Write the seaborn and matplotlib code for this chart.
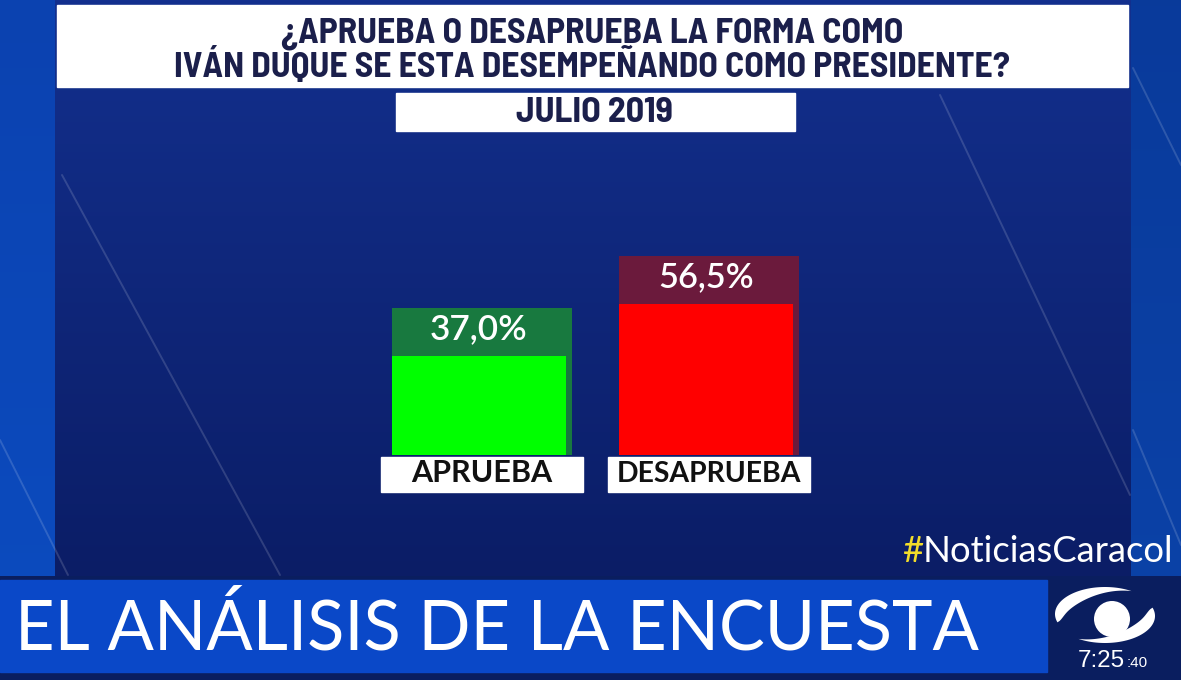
import numpy as np
import pandas as pd
import matplotlib
matplotlib.use('Agg')
import matplotlib.pyplot as plt
import seaborn as sns
from matplotlib.patches import Rectangle, Circle, Polygon

# DATOS
categorias = ['APRUEBA', 'DESAPRUEBA']
valores = [37.0, 56.5]
etiquetas = ['37,0%', '56,5%']
colores_barra = ['#00ff00', '#ff0000']
colores_cabecera = ['#18793f', '#6b1a3c']

titulo = ['¿APRUEBA O DESAPRUEBA LA FORMA COMO',
          'IVÁN DUQUE SE ESTA DESEMPEÑANDO COMO PRESIDENTE?']
fecha = 'JULIO 2019'
franja = 'EL ANÁLISIS DE LA ENCUESTA'
hashtag = 'NoticiasCaracol'
hora = '7:25'
segundos = ':40'

sns.set_theme(style='white')
plt.rcParams['font.family'] = ['Lato', 'DejaVu Sans']
ANGOSTA = ['Barlow Semi Condensed', 'Barlow Condensed', 'Liberation Sans Narrow', 'DejaVu Sans']

W, H = 1181, 680
fig = plt.figure(figsize=(W / 100, H / 100), dpi=100)
renderer = fig.canvas.get_renderer()


def ajustar(txt, ancho):
    # escala el tamaño de letra para que el texto ocupe "ancho" pixeles
    w = txt.get_window_extent(renderer).width
    txt.set_fontsize(txt.get_fontsize() * ancho / w)
    return txt


# --- fondo (coordenadas en pixeles) ---
bg = fig.add_axes([0, 0, 1, 1])
bg.set_xlim(0, W)
bg.set_ylim(H, 0)
bg.axis('off')

yy, xx = np.mgrid[0:H, 0:W]
t = yy / H
img = np.zeros((H, W, 3))
borde = np.array([11, 66, 176]) / 255
borde2 = np.array([12, 76, 192]) / 255
img[:] = borde[None, None, :] * (1 - t[..., None]) + borde2[None, None, :] * t[..., None]
der = xx > 1130
img[der] = img[der] * 0.88
panel = (xx >= 55) & (xx <= 1130) & (yy <= 575)
tp = np.clip(yy / 575, 0, 1)
c_top = np.array([19, 48, 142]) / 255
c_bot = np.array([11, 29, 102]) / 255
img[panel] = c_top[None, :] * (1 - tp[panel][:, None]) + c_bot[None, :] * tp[panel][:, None]
img[yy > 575] = np.array([10, 30, 95]) / 255
bg.imshow(img, extent=[0, W, H, 0], aspect='auto', zorder=0)

# rayas diagonales
for (x0, y0, x1, y1) in [(62, 175, 280, 575), (0, 440, 68, 575), (940, 95, 1130, 495),
                          (1133, 68, 1181, 165), (1133, 430, 1181, 545)]:
    bg.plot([x0, x1], [y0, y1], color='white', alpha=0.15, lw=1.4, zorder=1)

# caja del titulo (dos lineas en un solo texto, la base de la ultima en y=77)
bg.add_patch(Rectangle((57, 5), 1071, 82, color='white', zorder=2))
tt = bg.text(592, 77, '\n'.join(titulo), ha='center', va='baseline', fontsize=22,
             fontweight='bold', color='#1b1f4b', family=ANGOSTA, linespacing=1.0,
             multialignment='center', zorder=3)
ajustar(tt, 835)
ys = [linea[3] for linea in tt._get_layout(renderer)[1]]
tt.set_linespacing(34.0 / abs(ys[0] - ys[1]))

bg.add_patch(Rectangle((396, 93), 399, 38, color='white', zorder=2))
t3 = bg.text(594, 122, fecha, ha='center', va='baseline', fontsize=22, fontweight='bold',
             color='#1b1f4b', family=ANGOSTA, zorder=3)
ajustar(t3, 157)

# franja inferior
bg.add_patch(Rectangle((0, 580), 1047, 92, color='#0a48c8', zorder=2))
t4 = bg.text(15, 650, franja, ha='left', va='baseline', fontsize=48, color='white', zorder=3)
ajustar(t4, 965)

# hashtag
tmp = bg.text(902, 562, '#' + hashtag, ha='left', va='baseline', fontsize=25, color='white')
ajustar(tmp, 273)
tam = tmp.get_fontsize()
tmp.remove()
almo = bg.text(902, 562, '#', ha='left', va='baseline', fontsize=tam, color='#f2dc2a', zorder=3)
x_fin = almo.get_window_extent(renderer).x1
bg.text(x_fin, 562, hashtag, ha='left', va='baseline', fontsize=tam, color='white', zorder=3)


# logo
def media_luna(cx, cy, a, b, t0, t1, grosor):
    th = np.radians(np.linspace(t0, t1, 100))
    s = np.linspace(0, 1, 100)
    g = grosor * np.sin(np.pi * s ** 0.6)
    xo, yo = cx + a * np.cos(th), cy + b * np.sin(th)
    xi, yi = cx + (a - g) * np.cos(th), cy + (b - g) * np.sin(th)
    pts = np.vstack([np.column_stack([xo, yo]), np.column_stack([xi, yi])[::-1]])
    return Polygon(pts, closed=True, color='white', lw=0, zorder=4)


bg.add_patch(media_luna(1105, 614, 50, 27, 162, 302, 13))
bg.add_patch(media_luna(1105, 616, 50, 27, -18, 122, 13))
bg.add_patch(Circle((1112, 619), 18, color='white', lw=0, zorder=5))
th1 = bg.text(1078, 667, hora, ha='left', va='baseline', fontsize=16, color='white',
              family=['Liberation Sans', 'DejaVu Sans'], zorder=5)
ajustar(th1, 47)
x_h = th1.get_window_extent(renderer).x1
bg.text(x_h + 1, 667, segundos, ha='left', va='baseline', fontsize=11, color='white',
        family=['Liberation Sans', 'DejaVu Sans'], zorder=5)

# --- barras ---
ax = fig.add_axes([300 / W, 225 / H, 600 / W, 268 / H])
ax.patch.set_alpha(0)
df = pd.DataFrame({'categoria': categorias, 'valor': valores})
sns.barplot(data=df, x='categoria', y='valor', hue='categoria', palette=colores_barra,
            saturation=1, width=174 / 227, legend=False, ax=ax)
for p in ax.patches:
    p.set_x(p.get_x() - 3 / 227)
    p.set_zorder(3)
    p.set_linewidth(0)

cabecera = 17.8
ax.bar(range(len(valores)), [v + cabecera for v in valores], width=180 / 227,
       color=colores_cabecera, zorder=2, linewidth=0)

anchos_pct = [98, 96]
anchos_cat = [141, 185]
for i, (v, lab, cat) in enumerate(zip(valores, etiquetas, categorias)):
    tx = ax.text(i - 3 / 227, v + cabecera - 11.6, lab, ha='center', va='baseline',
                 fontsize=26, color='white', fontweight='semibold', zorder=4)
    ajustar(tx, anchos_pct[i])
    ax.add_patch(Rectangle((i - 0.447, -13.8), 0.894, 13.05, color='white',
                           clip_on=False, zorder=4))
    tc = ax.text(i, -10.1, cat, ha='center', va='baseline', fontsize=20, fontweight='bold',
                 color='#111111', zorder=5)
    ajustar(tc, anchos_cat[i])

ax.set_xlim(-0.8018, 1.8414)
ax.set_ylim(0, 100)
ax.axis('off')

fig.savefig('out.png', dpi=100)
